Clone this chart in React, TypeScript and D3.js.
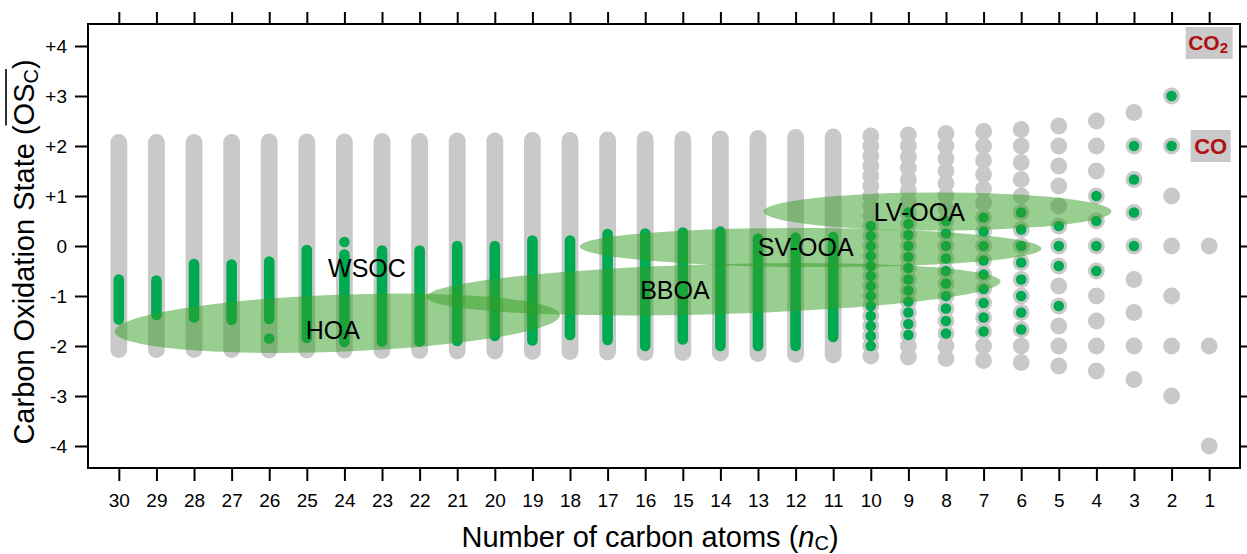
import React, { useRef, useEffect, useLayoutEffect, useState } from 'react';
import * as d3 from 'd3';

const FONT = "Arial, 'Liberation Sans', Helvetica, sans-serif";
const GRAY = '#c9c9c9';
const GREEN = '#00aa50';

// x axis: number of carbon atoms
const nCTicks = [30, 29, 28, 27, 26, 25, 24, 23, 22, 21, 20, 19, 18, 17, 16, 15, 14, 13, 12, 11, 10, 9, 8, 7, 6, 5, 4, 3, 2, 1];
const osTicks = [-4, -3, -2, -1, 0, 1, 2, 3, 4];

// large molecules: possible OSc values overlap into bars (+/- extent)
const denseN = [30, 29, 28, 27, 26, 25, 24, 23, 22, 21, 20, 19, 18, 17, 16, 15, 14, 13, 12, 11];
const denseGrayTop = [2.07, 2.07, 2.07, 2.07, 2.08, 2.08, 2.08, 2.09, 2.09, 2.1, 2.1, 2.11, 2.11, 2.12, 2.13, 2.13, 2.14, 2.15, 2.17, 2.18];
// observed (green) ranges for the same columns
const denseGreenHi = [-0.67, -0.69, -0.36, -0.37, -0.31, -0.08, -0.17, -0.09, -0.09, 0.0, 0.0, 0.11, 0.11, 0.24, 0.25, 0.27, 0.29, 0.15, 0.17, 0.18];
const denseGreenLo = [-1.47, -1.38, -1.43, -1.48, -1.46, -1.84, -1.92, -1.91, -1.91, -1.9, -1.8, -1.89, -1.78, -1.88, -2.0, -1.87, -2.0, -2.0, -2.0, -1.82];
const extraGreenN = [26, 24];
const extraGreenOS = [-1.85, 0.08];

// small molecules: individual points
const sparseN = [10, 9, 8, 7, 6, 5, 4, 3, 2, 1];
const sparseGray = [
  [2.2, 2.0, 1.8, 1.6, 1.4, 1.2, 1.0, 0.8, 0.6, 0.4, 0.2, 0, -0.2, -0.4, -0.6, -0.8, -1.0, -1.2, -1.4, -1.6, -1.8, -2.0, -2.2],
  [2.22, 2.0, 1.78, 1.56, 1.33, 1.11, 0.89, 0.67, 0.44, 0.22, 0, -0.22, -0.44, -0.67, -0.89, -1.11, -1.33, -1.56, -1.78, -2.0, -2.22],
  [2.25, 2.0, 1.75, 1.5, 1.25, 1.0, 0.75, 0.5, 0.25, 0, -0.25, -0.5, -0.75, -1.0, -1.25, -1.5, -1.75, -2.0, -2.25],
  [2.29, 2.0, 1.71, 1.43, 1.14, 0.86, 0.57, 0.29, 0, -0.29, -0.57, -0.86, -1.14, -1.43, -1.71, -2.0, -2.29],
  [2.33, 2.0, 1.67, 1.33, 1.0, 0.67, 0.33, 0, -0.33, -0.67, -1.0, -1.33, -1.67, -2.0, -2.33],
  [2.4, 2.0, 1.6, 1.2, 0.8, 0.4, 0, -0.4, -0.8, -1.2, -1.6, -2.0, -2.4],
  [2.5, 2.0, 1.5, 1.0, 0.5, 0, -0.5, -1.0, -1.5, -2.0, -2.5],
  [2.67, 2.0, 1.33, 0.67, 0, -0.67, -1.33, -2.0, -2.67],
  [3, 2, 1, 0, -1, -2, -3],
  [0, -2, -4],
];
const sparseGreen = [
  [0.4, 0.2, 0, -0.2, -0.4, -0.6, -0.8, -1.0, -1.2, -1.4, -1.6, -1.8, -2.0],
  [0.67, 0.44, 0.22, 0, -0.22, -0.44, -0.67, -0.89, -1.11, -1.33, -1.56, -1.78],
  [0.5, 0.25, 0, -0.25, -0.5, -0.75, -1.0, -1.25, -1.5, -1.75],
  [0.57, 0.29, 0, -0.29, -0.57, -0.86, -1.14, -1.43, -1.71],
  [0.67, 0.33, 0, -0.33, -0.67, -1.0, -1.33, -1.67],
  [0.4, 0, -0.4, -1.2],
  [1.0, 0.5, 0, -0.5],
  [2.0, 1.33, 0.67, 0],
  [3.0, 2.0],
  [],
];

// aerosol classes as ellipses: tip to tip, plus half height in OSc
const regionNames = ['HOA', 'BBOA', 'SV-OOA', 'LV-OOA'];
const regionFrom = [[30.11, -1.71], [21.81, -1.02], [17.74, -0.01], [12.85, 0.69]];
const regionTo = [[18.27, -1.38], [6.55, -0.71], [5.46, -0.05], [3.6, 0.69]];
const regionHalf = [0.57, 0.5, 0.39, 0.38];

const labelNames = ['WSOC', 'HOA', 'BBOA', 'SV-OOA', 'LV-OOA'];
const labelAt = [[23.4, -0.44], [24.31, -1.67], [15.21, -0.88], [11.73, -0.01], [8.71, 0.69]];

const x = d3.scaleLinear().domain([30.82, 0.18]).range([88, 1240]);
const y = d3.scaleLinear().domain([-4.44, 4.44]).range([468, 24]);

function YTitle() {
  const textRef = useRef<SVGTextElement>(null);
  const [bar, setBar] = useState<[number, number] | null>(null);

  useLayoutEffect(() => {
    const t = textRef.current;
    if (!t) return;
    const start = 'Carbon Oxidation State ('.length;
    const s = t.getStartPositionOfChar(start).x;
    const e = t.getEndPositionOfChar(start + 2).x;
    setBar([s, e]);
  }, []);

  return (
    <g transform="translate(34,252) rotate(-90)">
      <text ref={textRef} textAnchor="middle" fontSize={29} fontFamily={FONT}>
        Carbon Oxidation State (OS
        <tspan fontSize={20} dy={4}>C</tspan>
        <tspan dy={-4}>)</tspan>
      </text>
      {bar && <line x1={bar[0]} x2={bar[1]} y1={-28} y2={-28} stroke="#000" strokeWidth={1.6} />}
    </g>
  );
}

export default function App() {
  const bottomRef = useRef<SVGGElement>(null);
  const topRef = useRef<SVGGElement>(null);
  const leftRef = useRef<SVGGElement>(null);
  const rightRef = useRef<SVGGElement>(null);

  useEffect(() => {
    const style = (g) => {
      g.select('.domain').remove();
      g.attr('font-family', FONT).attr('font-size', 19);
      g.selectAll('line').attr('stroke-width', 2).attr('stroke', '#000');
      g.selectAll('text').attr('fill', '#000');
    };

    const gb = d3.select(bottomRef.current);
    gb.call(d3.axisBottom(x).tickValues(nCTicks).tickSize(13).tickPadding(13).tickFormat(d3.format('d')));
    style(gb);

    const gt = d3.select(topRef.current);
    gt.call(d3.axisTop(x).tickValues(nCTicks).tickSize(12).tickFormat(() => ''));
    style(gt);

    const gl = d3.select(leftRef.current);
    gl.call(
      d3.axisLeft(y).tickValues(osTicks).tickSize(13).tickPadding(8)
        .tickFormat((d) => (d > 0 ? `+${d}` : `${d}`))
    );
    style(gl);

    const gr = d3.select(rightRef.current);
    gr.call(d3.axisRight(y).tickValues(osTicks).tickSize(13).tickFormat(() => ''));
    style(gr);
  }, []);

  const ry = (v) => Math.abs(y(0) - y(v));

  return (
    <svg width={1247} height={554} style={{ position: 'absolute', left: 0, top: 0 }} fontFamily={FONT}>
      <rect width={1247} height={554} fill="#fff" />

      {/* possible oxidation states */}
      <g>
        {denseN.map((n, i) => (
          <line key={n} x1={x(n)} x2={x(n)} y1={y(denseGrayTop[i])} y2={y(-denseGrayTop[i])}
            stroke={GRAY} strokeWidth={16.8} strokeLinecap="round" />
        ))}
        {sparseN.map((n, i) =>
          sparseGray[i].map((v, j) => <circle key={`${n}-${j}`} cx={x(n)} cy={y(v)} r={8.4} fill={GRAY} />)
        )}
      </g>

      {/* observed */}
      <g>
        {denseN.map((n, i) => (
          <line key={n} x1={x(n)} x2={x(n)} y1={y(denseGreenHi[i])} y2={y(denseGreenLo[i])}
            stroke={GREEN} strokeWidth={10.6} strokeLinecap="round" />
        ))}
        {extraGreenN.map((n, i) => (
          <circle key={`e${n}`} cx={x(n)} cy={y(extraGreenOS[i])} r={5.3} fill={GREEN} />
        ))}
        {sparseN.map((n, i) =>
          sparseGreen[i].map((v, j) => <circle key={`${n}-${j}`} cx={x(n)} cy={y(v)} r={5.3} fill={GREEN} />)
        )}
      </g>

      {/* aerosol classes */}
      <g>
        {regionNames.map((name, i) => {
          const x1 = x(regionFrom[i][0]);
          const y1 = y(regionFrom[i][1]);
          const x2 = x(regionTo[i][0]);
          const y2 = y(regionTo[i][1]);
          const cx = (x1 + x2) / 2;
          const cy = (y1 + y2) / 2;
          const rx = Math.hypot(x2 - x1, y2 - y1) / 2;
          const ang = (Math.atan2(y2 - y1, x2 - x1) * 180) / Math.PI;
          return (
            <ellipse key={name} cx={cx} cy={cy} rx={rx} ry={ry(regionHalf[i])}
              transform={`rotate(${ang},${cx},${cy})`} fill="rgb(51,157,35)" fillOpacity={0.5} />
          );
        })}
      </g>

      <g fontSize={25} textAnchor="middle">
        {labelNames.map((t, i) => (
          <text key={t} x={x(labelAt[i][0])} y={y(labelAt[i][1])} dy="0.36em">{t}</text>
        ))}
      </g>

      {/* CO2 and CO */}
      <rect x={x(1) - 23.5} y={y(4) - 19} width={47} height={32} fill="#c9c9c9" />
      <text x={x(1) - 21} y={y(4) + 4} fontSize={21} fontWeight="bold" fill="#b01010">
        CO<tspan fontSize={15} dy={3}>2</tspan>
      </text>
      <rect x={x(1) - 18.5} y={y(2) - 16} width={40} height={32} fill="#c9c9c9" />
      <text x={x(1) + 1.5} y={y(2) + 7.5} fontSize={22} fontWeight="bold" fill="#b01010" textAnchor="middle">
        CO
      </text>

      {/* frame and axes */}
      <rect x={88} y={24} width={1152} height={444} fill="none" stroke="#000" strokeWidth={2} />
      <g ref={bottomRef} transform="translate(0,468)" />
      <g ref={topRef} transform="translate(0,24)" />
      <g ref={leftRef} transform="translate(88,0)" />
      <g ref={rightRef} transform="translate(1240,0)" />

      <text x={650} y={547} fontSize={29} textAnchor="middle">
        Number of carbon atoms (<tspan fontStyle="italic">n</tspan>
        <tspan fontSize={20} dy={3}>C</tspan>
        <tspan dy={-3}>)</tspan>
      </text>
      <YTitle />
    </svg>
  );
}
